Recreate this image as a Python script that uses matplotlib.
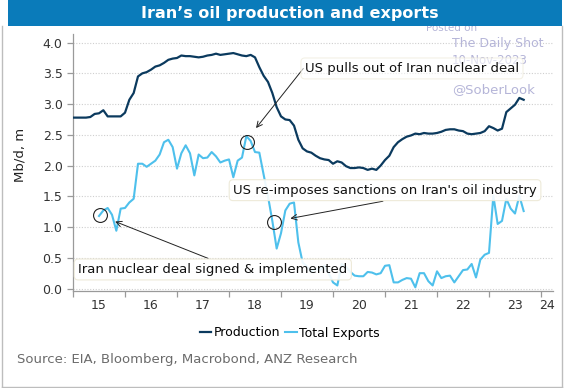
import numpy as np
import matplotlib.pyplot as plt
from matplotlib.patches import Rectangle
from matplotlib.lines import Line2D


# Data (monthly)
start_year = 2015
production = [
    2.78, 2.78, 2.78, 2.78, 2.79, 2.84, 2.85, 2.90, 2.80, 2.80,
    2.80, 2.80, 2.86, 3.07, 3.18, 3.45, 3.50, 3.52, 3.56, 3.61,
    3.63, 3.67, 3.72, 3.74, 3.75, 3.79, 3.78, 3.78, 3.77, 3.76,
    3.77, 3.79, 3.80, 3.82, 3.80, 3.81, 3.82, 3.83, 3.81, 3.79,
    3.78, 3.80, 3.76, 3.60, 3.46, 3.36, 3.18, 2.95, 2.80, 2.75,
    2.74, 2.65, 2.42, 2.28, 2.23, 2.21, 2.16, 2.12, 2.10, 2.09,
    2.03, 2.07, 2.05, 1.99, 1.96, 1.96, 1.97, 1.96, 1.93, 1.95,
    1.93, 2.00, 2.09, 2.16, 2.30, 2.38, 2.43, 2.47, 2.49, 2.52,
    2.51, 2.53, 2.52, 2.52, 2.53, 2.55, 2.58, 2.59, 2.59, 2.57,
    2.56, 2.52, 2.51, 2.52, 2.53, 2.56, 2.64, 2.61, 2.57, 2.60,
    2.87, 2.93, 2.99, 3.10, 3.07,
]
exports_start = 6  # first month with export data (Jul 2015)
exports = [
    1.18, 1.27, 1.31, 1.20,
    0.94, 1.30, 1.31, 1.40, 1.46, 2.03, 2.03, 1.98, 2.03, 2.08,
    2.18, 2.38, 2.42, 2.30, 1.95, 2.20, 2.33, 2.20, 1.84, 2.18,
    2.12, 2.13, 2.22, 2.15, 2.05, 2.08, 2.10, 1.81, 2.08, 2.13,
    2.48, 2.40, 2.22, 2.21, 1.85, 1.50, 1.10, 0.65, 0.90, 1.27,
    1.38, 1.40, 0.75, 0.42, 0.36, 0.27, 0.32, 0.30, 0.37, 0.25,
    0.10, 0.05, 0.40, 0.35, 0.27, 0.21, 0.20, 0.20, 0.27, 0.26,
    0.23, 0.25, 0.37, 0.38, 0.10, 0.10, 0.14, 0.17, 0.16, 0.02,
    0.25, 0.25, 0.12, 0.05, 0.28, 0.17, 0.20, 0.21, 0.10, 0.20,
    0.30, 0.31, 0.40, 0.18, 0.47, 0.55, 0.58, 1.51, 1.05, 1.10,
    1.46, 1.30, 1.22, 1.51, 1.26,
]
year_labels = ['15', '16', '17', '18', '19', '20', '21', '22', '23', '24']

t_prod = start_year + np.arange(len(production)) / 12
t_exp = start_year + (exports_start + np.arange(len(exports))) / 12

# Plot
W, H = 564, 388
fig = plt.figure(figsize=(W / 100, H / 100), dpi=100)
fig.patch.set_facecolor('white')
ax = fig.add_axes([73 / W, 97 / H, 480 / W, 257 / H])

c_prod = '#0B3A5E'
c_exp = '#4EC0EC'
ax.plot(t_prod, production, color=c_prod, lw=1.6, label='Production', zorder=3)
ax.plot(t_exp, exports, color=c_exp, lw=1.5, label='Total Exports', zorder=3)

x_end = 2015 + 480 / 52
ax.set_xlim(2015, x_end)
ax.set_ylim(-0.04, 4.14)

# axes styling
for s in ['top', 'right']:
    ax.spines[s].set_visible(False)
for s in ['left', 'bottom']:
    ax.spines[s].set_color('#9a9a9a')
    ax.spines[s].set_linewidth(0.9)

ax.set_yticks(np.arange(0, 4.01, 0.5))
ax.set_yticklabels(['%.1f' % v for v in np.arange(0, 4.01, 0.5)])
ax.yaxis.grid(True, linestyle=(0, (1, 1.5)), color='#cfcfcf', lw=0.8)
ax.set_axisbelow(True)

ax.set_xticks(np.arange(2015, 2025))
ax.set_xticklabels([])
label_pos = list(np.arange(2015.5, 2024, 1.0)) + [(2024 + x_end) / 2]
ax.set_xticks(label_pos, minor=True)
ax.set_xticklabels(year_labels, minor=True)
ax.tick_params(axis='x', which='minor', length=0, pad=6)
ax.tick_params(which='major', length=4, color='#9a9a9a', width=0.9)
ax.tick_params(which='both', labelsize=9, labelcolor='#333333')

# annotations
box = dict(boxstyle='round,pad=0.3', fc='white', ec='#ECE8D5', lw=0.8, alpha=0.6)
arrow = dict(arrowstyle='->', color='#222222', lw=0.7, shrinkA=0, shrinkB=0)
circ = dict(marker='o', ms=10, mfc='none', mec='#222222', mew=0.8, ls='none', zorder=5)

ax.plot([2015.52], [1.19], **circ)
ax.plot([2018.35], [2.39], **circ)
ax.plot([2018.87], [1.09], **circ)

ax.annotate('', xy=(2018.52, 2.61), xytext=(2019.43, 3.58), arrowprops=arrow, zorder=6)
ax.annotate('', xy=(2019.18, 1.14), xytext=(2020.96, 1.42), arrowprops=arrow, zorder=6)
ax.annotate('', xy=(2015.81, 1.09), xytext=(2017.60, 0.49), arrowprops=arrow, zorder=6)

ax.text(2019.46, 3.58, 'US pulls out of Iran nuclear deal', fontsize=9.5,
        va='center', ha='left', color='#111111', bbox=box, zorder=7)
ax.text(2018.08, 1.60, "US re-imposes sanctions on Iran's oil industry", fontsize=9.5,
        va='center', ha='left', color='#111111', bbox=dict(box, alpha=0.9), zorder=7)
ax.text(2015.10, 0.31, 'Iran nuclear deal signed & implemented', fontsize=9.5,
        va='center', ha='left', color='#111111', bbox=dict(box, alpha=0.9), zorder=7)

# y label
fig.text(20 / W, 1 - 155 / H, 'Mb/d, m', rotation=90, ha='center', va='center',
         fontsize=9.5, color='#222222')

# title band
fig.add_artist(Rectangle((8 / W, 1 - 26 / H), 554 / W, 26 / H, transform=fig.transFigure,
                         facecolor='#0A7BBA', edgecolor='none', zorder=10))
fig.text(290 / W, 1 - 13.5 / H, 'Iran\u2019s oil production and exports', ha='center', va='center',
         fontsize=11.5, fontweight='bold', color='white', zorder=11)

# frame
fg = '#bdbdbd'
fig.add_artist(Line2D([2 / W, 2 / W], [1 - 26 / H, 1.5 / H], color=fg, lw=1, transform=fig.transFigure))
fig.add_artist(Line2D([562 / W, 562 / W], [1 - 26 / H, 1.5 / H], color=fg, lw=1, transform=fig.transFigure))
fig.add_artist(Line2D([2 / W, 562 / W], [1.5 / H, 1.5 / H], color=fg, lw=1, transform=fig.transFigure))

# watermark (partly behind the annotation box, as in the original)
wm = '#b5b5d8'
fig.text(452 / W, 1 - 28 / H, 'Posted on', ha='center', va='center', fontsize=7.5, color=wm, zorder=9)
fig.text(452 / W, 1 - 43 / H, 'The Daily Shot', ha='left', va='center', fontsize=9, color=wm, zorder=9)
ax.text(452 / W, 1 - 60 / H, '10-Nov-2023', ha='left', va='center', fontsize=8.5, color=wm,
        transform=fig.transFigure, zorder=6.5)
fig.text(452 / W, 1 - 90 / H, '@SoberLook', ha='left', va='center', fontsize=9.5, color=wm, zorder=9)

# legend
fig.legend(loc='center', bbox_to_anchor=(290 / W, 1 - 333 / H), ncol=2, frameon=False,
           fontsize=9, handlelength=0.9, handletextpad=0.2, columnspacing=0.4)

# source
fig.text(17 / W, 1 - 359 / H, 'Source: EIA, Bloomberg, Macrobond, ANZ Research',
         ha='left', va='center', fontsize=9.5, color='#6b6b6b')

plt.savefig('out.png', dpi=100)
